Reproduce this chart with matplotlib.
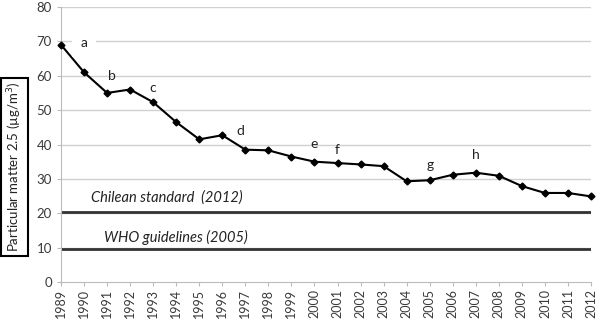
import matplotlib.pyplot as plt

years = list(range(1989, 2013))
pm25 = [69, 61, 55, 56, 52.3, 46.5, 41.5, 42.7, 38.5, 38.3, 36.5, 35, 34.6, 34.2, 33.7,
        29.3, 29.6, 31.2, 31.8, 30.9, 27.9, 25.9, 25.9, 24.9]

chilean_std = 20.5
who_guide = 9.5

letters = ['a', 'b', 'c', 'd', 'e', 'f', 'g', 'h']
letter_x = [1990, 1991.2, 1993, 1996.8, 2000, 2001, 2005, 2007]
letter_y = [69.5, 60, 56.5, 43.8, 40, 38.4, 34, 37]

plt.rcParams['font.family'] = ['Lato', 'DejaVu Sans']

fig = plt.figure(figsize=(6, 3.19), dpi=100)
ax = fig.add_axes([61 / 600, 1 - 282 / 319, 530 / 600, 275 / 319])

ax.set_xlim(1989, 2012)
ax.set_ylim(0, 80)
ax.set_yticks(range(0, 81, 10))
ax.set_xticks(years)
ax.set_xticklabels([str(y) for y in years], rotation=90, fontsize=9, color='#3a3a3a')
ax.tick_params(axis='y', labelsize=9.5, colors='#3a3a3a', length=3, color='#bbbbbb')
ax.tick_params(axis='x', length=3, color='#bbbbbb', pad=2)

for v in range(10, 81, 10):
    ax.axhline(v, color='#d0d0d0', lw=1, zorder=0)

for side in ['top', 'right']:
    ax.spines[side].set_visible(False)
ax.spines['left'].set_color('#bbbbbb')
ax.spines['bottom'].set_color('#bbbbbb')

# reference lines
ax.axhline(chilean_std, color='#333333', lw=2, zorder=2)
ax.axhline(who_guide, color='#333333', lw=2, zorder=2)
ax.text(1993.6, 24.5, 'Chilean standard  (2012)', style='italic', fontsize=10.5,
        ha='center', va='center', color='#222222')
ax.text(1994.0, 13, 'WHO guidelines (2005)', style='italic', fontsize=10.5,
        ha='center', va='center', color='#222222')

ax.plot(years, pm25, color='black', lw=1.5, marker='D', markersize=3.5, zorder=3, clip_on=False)

for s, x, y in zip(letters, letter_x, letter_y):
    kw = {}
    if s == 'a':
        kw['bbox'] = dict(facecolor='white', edgecolor='none', pad=6)
    ax.text(x, y, s, fontsize=10, ha='center', va='center', color='#222222', zorder=4, **kw)

fig.text(14.5 / 600, 1 - 167 / 319, 'Particular matter 2.5 (µg/m$^3$)', rotation=90,
         fontsize=9.5, ha='center', va='center', color='#222222',
         bbox=dict(boxstyle='square,pad=0.3', facecolor='white', edgecolor='black', lw=1.5))

fig.savefig('out.png', dpi=100)
